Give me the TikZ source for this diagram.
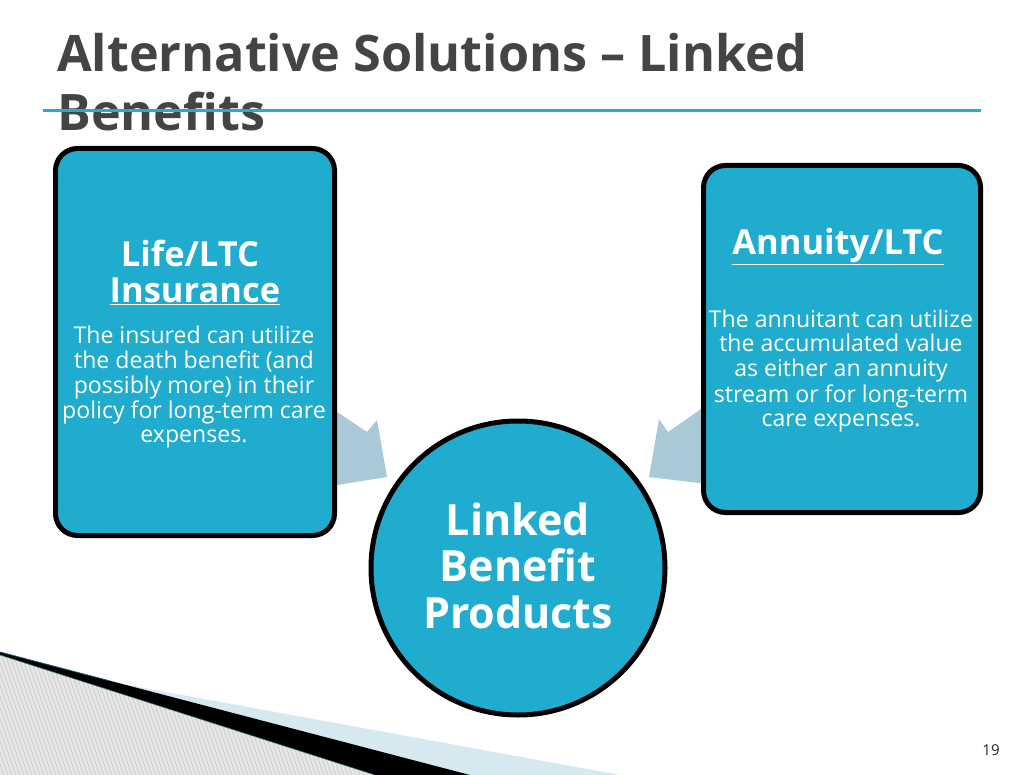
\documentclass[tikz,border=0pt]{standalone}
\usepackage{fontspec}
\setmainfont{Open Sans}
\definecolor{boxfill}{RGB}{32,172,206}
\definecolor{titlegrey}{RGB}{68,68,68}
\definecolor{ruleteal}{RGB}{40,172,204}
\definecolor{arrowblue}{RGB}{169,200,216}
\definecolor{paleblue}{RGB}{214,232,240}
\definecolor{hatchbg}{RGB}{230,230,230}
\definecolor{hatchline}{RGB}{200,200,200}
\definecolor{darkteal}{RGB}{20,90,100}
\tikzset{
  card/.style={draw=black, line width=5pt, fill=boxfill, rounded corners=22pt},
  hub/.style={draw=black, line width=5pt, fill=boxfill},
  bigarrow/.style={fill=arrowblue, draw=none},
  headtxt/.style={text=white, font=\bfseries\fontsize{34.5}{35}\selectfont, inner sep=0pt, anchor=base},
  bodytxt/.style={text=white, font=\fontsize{23.1}{24.7}\selectfont, inner sep=0pt, anchor=base},
  hubtxt/.style={text=white, font=\bfseries\fontsize{43}{46}\selectfont, inner sep=0pt, anchor=base},
  titletxt/.style={text=titlegrey, font=\bfseries\fontsize{50.3}{59}\selectfont, inner sep=0pt, anchor=base west},
}
\begin{document}
\begin{tikzpicture}[x=1pt,y=-1pt]
\useasboundingbox (0,0) rectangle (1024,775);
\fill[white] (0,0) rectangle (1024,775);

% bottom-left decoration
\fill[paleblue] (0,662) -- (100,680) -- (620,775) -- (0,775) -- cycle;
\fill[black] (0,652) -- (470,775) -- (375,775) -- (0,655) -- cycle;
\begin{scope}
  \clip (0,655) -- (375,775) -- (0,775) -- cycle;
  \fill[hatchbg] (0,640) rectangle (400,775);
  \foreach \i in {-60,-56,...,400} \draw[hatchline, line width=0.6pt] (\i,640) -- (\i+48,775);
\end{scope}
\draw[darkteal, line width=0.8pt] (0,652) -- (110,681);
\draw[darkteal, line width=0.5pt] (0,655) -- (375,775);

% title
\node[titletxt] (t1) at (57,72) {Alternative Solutions – Linked};
\node[titletxt] (t2) at (57,131) {Benefits};
\coordinate (rl) at (43,111);
\coordinate (rr) at (981,111);
\draw[ruleteal, line width=3pt] (rl) -- (rr);

% arrows behind boxes
\fill[bigarrow] (300,387) -- (367,432) -- (377,420) -- (387,477) -- (300,491) -- cycle;
\fill[bigarrow] (740,382) -- (668,432) -- (659,419) -- (649,477) -- (740,488) -- cycle;

% left card
\draw[card] (55.5,148.5) rectangle (334.5,535.5);
\node[headtxt] (lh1) at (190,267) {Life/LTC};
\node[headtxt] (lh2) at (195,302) {\underline{Insurance}};
\node[bodytxt] (lb) at (194,343) {\begin{tabular}[t]{@{}c@{}}The insured can utilize\\ the death benefit (and\\ possibly more) in their\\ policy for long-term care\\ expenses.\end{tabular}};

% right card
\draw[card] (703.5,165.5) rectangle (980.5,512.5);
\node[headtxt] (rh) at (838,255) {\underline{Annuity/LTC}};
\node[bodytxt] (rb) at (841,327) {\begin{tabular}[t]{@{}c@{}}The annuitant can utilize\\ the accumulated value\\ as either an annuity\\ stream or for long-term\\ care expenses.\end{tabular}};

% hub circle
\draw[hub] (518,568) circle (147);
\node[hubtxt] (c1) at (518,535) {Linked};
\node[hubtxt] (c2) at (518,581) {Benefit};
\node[hubtxt] (c3) at (518,628) {Products};

% page number
\node[text=black!85, font=\fontsize{15}{18}\selectfont, inner sep=0pt, anchor=base] (pg) at (991,755) {19};
\end{tikzpicture}
\end{document}
